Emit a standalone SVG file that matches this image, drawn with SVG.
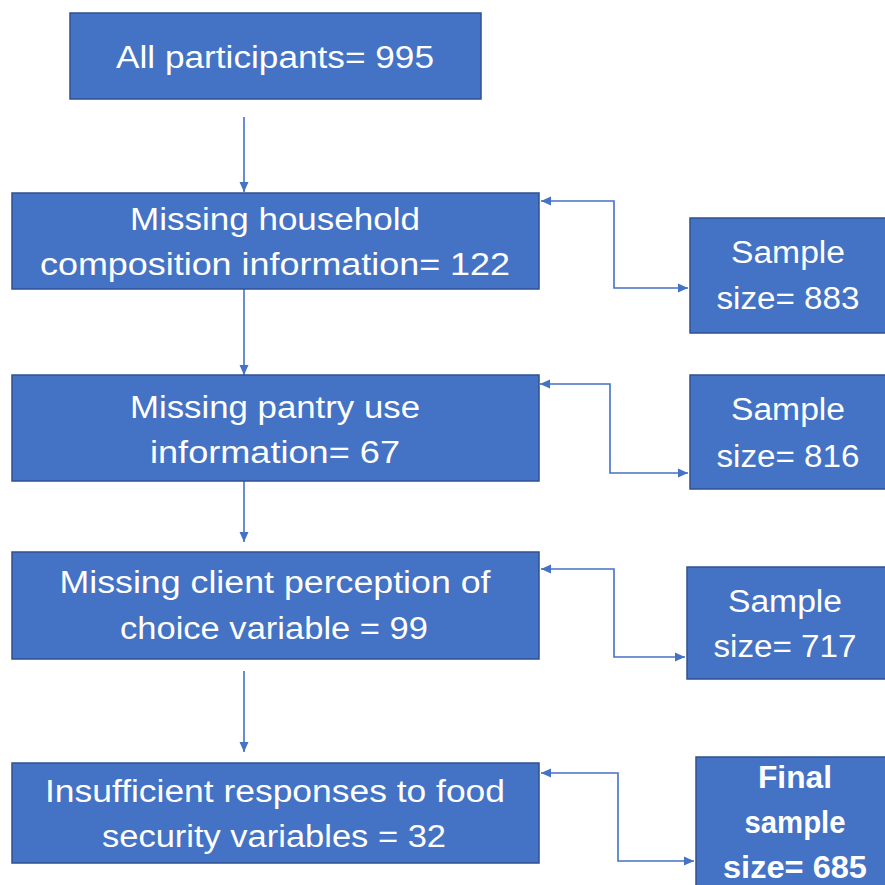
<svg xmlns="http://www.w3.org/2000/svg" width="885" height="885" viewBox="0 0 885 885">
<style>
.box{fill:#4472C4;stroke:#2F528F;stroke-width:1.5}
.t{font-family:"Liberation Sans",Arial,sans-serif;font-size:31px;fill:#ffffff;text-anchor:middle}
.b{font-weight:bold}
.c{fill:none;stroke:#4472C4;stroke-width:1.6}
</style>
<defs>
<marker id="ah" viewBox="0 0 10 10" refX="10" refY="5" markerWidth="10" markerHeight="10" markerUnits="userSpaceOnUse" orient="auto-start-reverse">
<path d="M0,0.5 L10,5 L0,9.5 Z" fill="#4472C4"/>
</marker>
</defs>
<rect width="885" height="885" fill="#ffffff"/>
<g id="connectors">
<line class="c" x1="244" y1="117" x2="244" y2="192" marker-end="url(#ah)"/>
<line class="c" x1="244" y1="289" x2="244" y2="375" marker-end="url(#ah)"/>
<line class="c" x1="244" y1="481" x2="244" y2="542" marker-end="url(#ah)"/>
<line class="c" x1="244" y1="671" x2="244" y2="752" marker-end="url(#ah)"/>
<polyline class="c" points="541,201 614,201 614,288 688,288" marker-start="url(#ah)" marker-end="url(#ah)"/>
<polyline class="c" points="540,384 610,384 610,473 688,473" marker-start="url(#ah)" marker-end="url(#ah)"/>
<polyline class="c" points="541,569 614,569 614,657 685,657" marker-start="url(#ah)" marker-end="url(#ah)"/>
<polyline class="c" points="541,773 618,773 618,861 694,861" marker-start="url(#ah)" marker-end="url(#ah)"/>
</g>
<g id="n1">
<rect class="box" x="70" y="13" width="411" height="86"/>
<text class="t" x="275" y="68" textLength="318" lengthAdjust="spacingAndGlyphs">All participants= 995</text>
</g>
<g id="n2">
<rect class="box" x="12" y="193" width="527" height="96"/>
<text class="t" x="275" y="230" textLength="290" lengthAdjust="spacingAndGlyphs">Missing household</text>
<text class="t" x="275" y="275" textLength="470" lengthAdjust="spacingAndGlyphs">composition information= 122</text>
</g>
<g id="n3">
<rect class="box" x="12" y="375" width="527" height="106"/>
<text class="t" x="275" y="418" textLength="290" lengthAdjust="spacingAndGlyphs">Missing pantry use</text>
<text class="t" x="275" y="463" textLength="250" lengthAdjust="spacingAndGlyphs">information= 67</text>
</g>
<g id="n4">
<rect class="box" x="12" y="552" width="527" height="107"/>
<text class="t" x="275" y="593" textLength="431" lengthAdjust="spacingAndGlyphs">Missing client perception of</text>
<text class="t" x="274" y="639" textLength="308" lengthAdjust="spacingAndGlyphs">choice variable = 99</text>
</g>
<g id="n5">
<rect class="box" x="12" y="763" width="527" height="100"/>
<text class="t" x="275" y="802" textLength="460" lengthAdjust="spacingAndGlyphs">Insufficient responses to food</text>
<text class="t" x="274" y="847" textLength="344" lengthAdjust="spacingAndGlyphs">security variables = 32</text>
</g>
<g id="r1">
<rect class="box" x="690" y="218" width="200" height="115"/>
<text class="t" x="788" y="263" textLength="114" lengthAdjust="spacingAndGlyphs">Sample</text>
<text class="t" x="788" y="309" textLength="143" lengthAdjust="spacingAndGlyphs">size= 883</text>
</g>
<g id="r2">
<rect class="box" x="690" y="375" width="200" height="114"/>
<text class="t" x="788" y="420" textLength="114" lengthAdjust="spacingAndGlyphs">Sample</text>
<text class="t" x="788" y="467" textLength="143" lengthAdjust="spacingAndGlyphs">size= 816</text>
</g>
<g id="r3">
<rect class="box" x="687" y="567" width="203" height="112"/>
<text class="t" x="785" y="612" textLength="114" lengthAdjust="spacingAndGlyphs">Sample</text>
<text class="t" x="785" y="657" textLength="143" lengthAdjust="spacingAndGlyphs">size= 717</text>
</g>
<g id="r4">
<rect class="box" x="696" y="757" width="194" height="135"/>
<text class="t b" x="795" y="788" textLength="74" lengthAdjust="spacingAndGlyphs">Final</text>
<text class="t b" x="795" y="833" textLength="101" lengthAdjust="spacingAndGlyphs">sample</text>
<text class="t b" x="795" y="878" textLength="144" lengthAdjust="spacingAndGlyphs">size= 685</text>
</g>
</svg>
